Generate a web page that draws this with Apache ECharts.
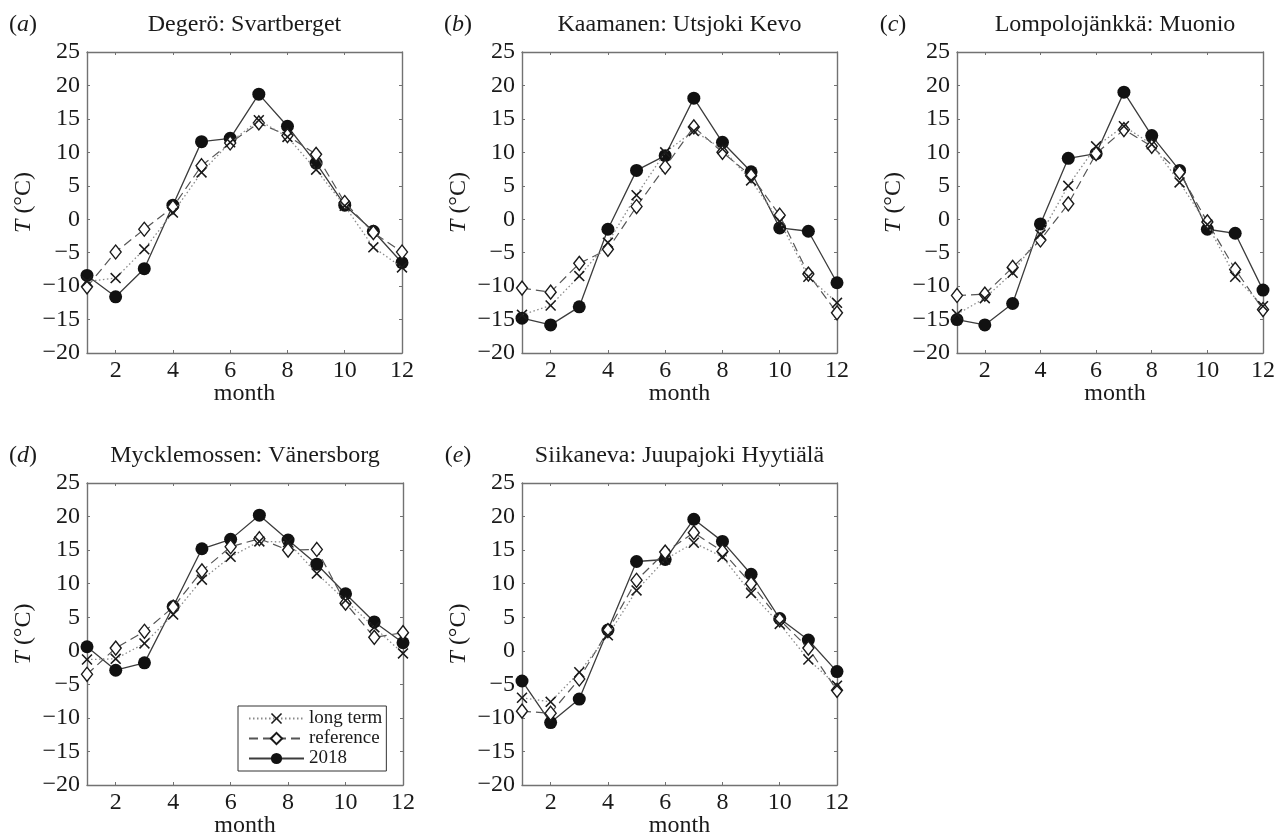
<!DOCTYPE html>
<html><head><meta charset="utf-8">
<script src="https://cdn.jsdelivr.net/npm/echarts@6/dist/echarts.min.js"></script>
<style>html,body{margin:0;padding:0;background:#fff}#c{width:1278px;height:837px}</style>
</head><body><div id="c"></div>
<script>
// ---------- data ----------
const months = [1, 2, 3, 4, 5, 6, 7, 8, 9, 10, 11, 12];
const xTickValues = [2, 4, 6, 8, 10, 12];
const yMin = -20, yMax = 25, yStep = 5;
const seriesNames = ['long term', 'reference', '2018'];
const panelLetters = ['a', 'b', 'c', 'd', 'e'];
const panelTitles = ['Degerö: Svartberget', 'Kaamanen: Utsjoki Kevo', 'Lompolojänkkä: Muonio', 'Mycklemossen: Vänersborg', 'Siikaneva: Juupajoki Hyytiälä'];
const yAxisName = 'T (°C)';
const xAxisName = 'month';

const longTermA  = [-9.3, -8.8, -4.5, 1.0, 7.0, 11.5, 14.8, 12.3, 7.4, 2.0, -4.2, -7.2];
const referenceA = [-10.1, -4.9, -1.5, 1.8, 8.0, 11.4, 14.4, 12.5, 9.7, 2.5, -2.0, -4.9];
const y2018A     = [-8.4, -11.6, -7.4, 2.1, 11.6, 12.1, 18.7, 13.9, 8.4, 2.1, -1.8, -6.5];

const longTermB  = [-14.3, -12.9, -8.5, -3.5, 3.6, 10.0, 13.2, 10.5, 5.8, -0.3, -8.6, -12.5];
const referenceB = [-10.3, -10.9, -6.6, -4.5, 1.9, 7.8, 13.8, 10.0, 6.5, 0.6, -8.2, -14.0];
const y2018B     = [-14.8, -15.8, -13.1, -1.5, 7.3, 9.5, 18.1, 11.5, 7.1, -1.3, -1.8, -9.5];

const longTermC  = [-14.2, -11.8, -8.0, -2.3, 5.0, 10.9, 13.9, 11.2, 5.5, -0.8, -8.6, -13.0];
const referenceC = [-11.4, -11.2, -7.2, -3.1, 2.3, 9.8, 13.4, 10.9, 7.0, -0.4, -7.5, -13.5];
const y2018C     = [-15.0, -15.8, -12.6, -0.7, 9.1, 9.8, 19.0, 12.5, 7.3, -1.5, -2.1, -10.6];

const longTermD  = [-1.3, -1.2, 1.1, 5.4, 10.6, 14.0, 16.3, 16.2, 11.5, 7.5, 3.5, -0.4];
const referenceD = [-3.5, 0.4, 2.9, 6.5, 11.9, 15.5, 16.7, 15.0, 15.1, 7.1, 2.0, 2.7];
const y2018D     = [0.6, -2.9, -1.8, 6.6, 15.2, 16.6, 20.2, 16.5, 12.9, 8.5, 4.3, 1.2];

const longTermE  = [-7.0, -7.6, -3.2, 2.3, 9.0, 13.6, 16.1, 14.0, 8.6, 4.0, -1.3, -5.2];
const referenceE = [-9.0, -9.3, -4.2, 3.0, 10.5, 14.7, 17.6, 14.8, 10.0, 4.6, 0.4, -5.9];
const y2018E     = [-4.5, -10.7, -7.2, 3.1, 13.3, 13.6, 19.6, 16.3, 11.4, 4.8, 1.6, -3.1];

const panelData = [
  [longTermA, referenceA, y2018A],
  [longTermB, referenceB, y2018B],
  [longTermC, referenceC, y2018C],
  [longTermD, referenceD, y2018D],
  [longTermE, referenceE, y2018E]
];

// ---------- layout / style ----------
const FONT = '"Liberation Serif", "Times New Roman", serif';
const gridBoxes = [
  { left: 87,  top: 52,  width: 315, height: 301 },
  { left: 522, top: 52,  width: 315, height: 301 },
  { left: 957, top: 52,  width: 316, height: 301 },
  { left: 87,  top: 483, width: 316, height: 302 },
  { left: 522, top: 483, width: 315, height: 302 }
];
const axisColor = '#727272';
const textColor = '#1a1a1a';
const crossPath = 'path://M0,1 L1,0 L5,4 L9,0 L10,1 L6,5 L10,9 L9,10 L5,6 L1,10 L0,9 L4,5 Z';
const seriesStyles = [
  { symbol: crossPath, symbolSize: 11, itemStyle: { color: '#1a1a1a' },
    lineStyle: { color: '#8a8a8a', width: 1.3, type: [1.5, 2.5] }, z: 4 },
  { symbol: 'diamond', symbolSize: [11, 14], itemStyle: { color: '#fff', borderColor: '#1a1a1a', borderWidth: 1.4 },
    lineStyle: { color: '#555', width: 1.2, type: [9, 5] }, z: 3 },
  { symbol: 'circle', symbolSize: 13, itemStyle: { color: '#111' },
    lineStyle: { color: '#3c3c3c', width: 1.3, type: 'solid' }, z: 2 }
];
const minusFmt = v => String(v).replace('-', '\u2212');
const labelStyle = { fontFamily: FONT, fontSize: 24, color: textColor };
const tickStyle = { color: axisColor, width: 1 };
const lineSt = { color: axisColor, width: 1.4 };

const grids = [], xAxes = [], yAxes = [], series = [], graphics = [];
gridBoxes.forEach((g, i) => {
  grids.push(Object.assign({ containLabel: false }, g));
  xAxes.push({ type: 'value', gridIndex: i, min: 1, max: 12, position: 'bottom',
    axisLine: { show: true, onZero: false, lineStyle: lineSt },
    axisTick: { show: true, inside: true, length: 3, customValues: xTickValues, lineStyle: tickStyle },
    axisLabel: { customValues: xTickValues, margin: 6, ...labelStyle },
    splitLine: { show: false } });
  xAxes.push({ type: 'value', gridIndex: i, min: 1, max: 12, position: 'top',
    axisLine: { show: true, onZero: false, lineStyle: lineSt },
    axisTick: { show: true, inside: true, length: 3, customValues: xTickValues, lineStyle: tickStyle },
    axisLabel: { show: false }, splitLine: { show: false } });
  yAxes.push({ type: 'value', gridIndex: i, min: yMin, max: yMax, interval: yStep, position: 'left',
    axisLine: { show: true, onZero: false, lineStyle: lineSt },
    axisTick: { show: true, inside: true, length: 3, lineStyle: tickStyle },
    axisLabel: { formatter: minusFmt, margin: 7, ...labelStyle },
    splitLine: { show: false } });
  yAxes.push({ type: 'value', gridIndex: i, min: yMin, max: yMax, interval: yStep, position: 'right',
    axisLine: { show: true, onZero: false, lineStyle: lineSt },
    axisTick: { show: true, inside: true, length: 3, lineStyle: tickStyle },
    axisLabel: { show: false }, splitLine: { show: false } });

  panelData[i].forEach((vals, k) => {
    const st = seriesStyles[k];
    series.push({
      type: 'line', name: seriesNames[k], xAxisIndex: 2 * i, yAxisIndex: 2 * i,
      data: months.map((m, j) => [m, vals[j]]),
      symbol: st.symbol, symbolSize: st.symbolSize, showAllSymbol: true,
      itemStyle: st.itemStyle, lineStyle: st.lineStyle, z: st.z,
      animation: false, silent: true
    });
  });

  const cx = g.left + g.width / 2;
  const bottom = g.top + g.height;
  graphics.push({ type: 'text', x: cx, y: g.top - 27,
    style: { text: panelTitles[i], fontFamily: FONT, fontSize: 24, fill: textColor, textAlign: 'center', textVerticalAlign: 'middle' } });
  graphics.push({ type: 'text', x: g.left - 64, y: g.top - 27,
    style: { text: '({i|' + panelLetters[i] + '})', fontFamily: FONT, fontSize: 24, fill: textColor, textAlign: 'center', textVerticalAlign: 'middle',
      rich: { i: { fontFamily: FONT, fontSize: 24, fontStyle: 'italic', fill: textColor } } } });
  graphics.push({ type: 'text', x: g.left - 63, y: g.top + g.height / 2, rotation: Math.PI / 2,
    style: { text: '{i|T}' + yAxisName.slice(1), fontFamily: FONT, fontSize: 24, fill: textColor, textAlign: 'center', textVerticalAlign: 'middle',
      rich: { i: { fontFamily: FONT, fontSize: 24, fontStyle: 'italic', fill: textColor } } } });
  graphics.push({ type: 'text', x: cx, y: bottom + 41,
    style: { text: xAxisName, fontFamily: FONT, fontSize: 24, fill: textColor, textAlign: 'center', textVerticalAlign: 'middle' } });
});

const chart = echarts.init(document.getElementById('c'), null, { renderer: 'canvas' });
chart.setOption({
  backgroundColor: '#fff',
  animation: false,
  grid: grids, xAxis: xAxes, yAxis: yAxes, series: series,
  legend: {
    orient: 'vertical', left: 238, top: 706, data: seriesNames,
    padding: [3, 4, 3, 10], itemGap: 1, itemWidth: 55, itemHeight: 14,
    borderColor: '#333', borderWidth: 1, backgroundColor: '#fff', borderRadius: 0,
    selectedMode: false,
    textStyle: { fontFamily: FONT, fontSize: 19, color: textColor, lineHeight: 17 }
  },
  graphic: graphics
});
</script>
</body></html>
